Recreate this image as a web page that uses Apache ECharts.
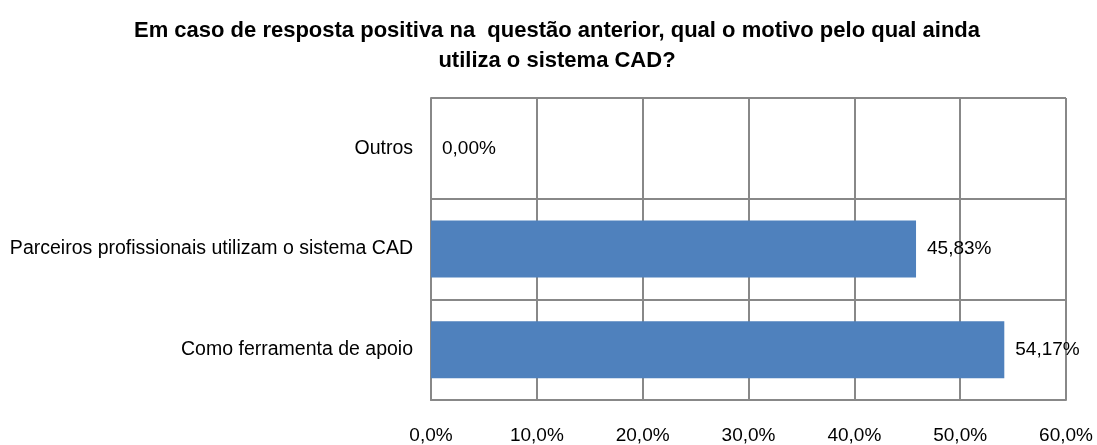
<!DOCTYPE html>
<html>
<head>
<meta charset="utf-8">
<script src="https://cdn.jsdelivr.net/npm/echarts@6/dist/echarts.min.js"></script>
<style>
  html, body { margin: 0; padding: 0; background: #fff; }
  #chart { width: 1097px; height: 445px; }
</style>
</head>
<body>
<div id="chart"></div>
<script>
// 类别（从下往上）
const categories = ['Como ferramenta de apoio', 'Parceiros profissionais utilizam o sistema CAD', 'Outros']
// 百分比数值
const values = [54.17, 45.83, 0.00]
// 横轴刻度
const xTicks = [0, 10, 20, 30, 40, 50, 60]

const titleText = 'Em caso de resposta positiva na  questão anterior, qual o motivo pelo qual ainda\nutiliza o sistema CAD?'
const fontFamily = '"Liberation Sans", Arial, sans-serif'

const chart = echarts.init(document.getElementById('chart'))

chart.setOption({
  animation: false,
  title: {
    text: titleText,
    left: 552,
    top: 11,
    textAlign: 'center',
    textStyle: {
      fontFamily: fontFamily,
      fontSize: 22,
      fontWeight: 'bold',
      color: '#000',
      lineHeight: 30
    }
  },
  grid: { left: 431, right: 31, top: 98, bottom: 43, containLabel: false },
  xAxis: {
    type: 'value',
    min: xTicks[0],
    max: xTicks[xTicks.length - 1],
    interval: 10,
    axisLine: { show: true, lineStyle: { color: '#888', width: 2 } },
    axisTick: { show: false },
    splitLine: { show: true, lineStyle: { color: '#888', width: 2 } },
    axisLabel: {
      margin: 26,
      fontFamily: fontFamily,
      fontSize: 19,
      color: '#000',
      formatter: v => v.toFixed(1).replace('.', ',') + '%'
    }
  },
  yAxis: {
    type: 'category',
    data: categories,
    axisLine: { show: true, lineStyle: { color: '#888', width: 2 } },
    axisTick: { show: false },
    splitLine: { show: true, lineStyle: { color: '#888', width: 2 } },
    axisLabel: {
      margin: 18,
      fontFamily: fontFamily,
      fontSize: 19.5,
      color: '#000'
    }
  },
  series: [{
    type: 'bar',
    data: values,
    barWidth: 57,
    itemStyle: { color: '#4F81BD' },
    label: {
      show: true,
      position: 'right',
      distance: 11,
      fontFamily: fontFamily,
      fontSize: 19,
      color: '#000',
      formatter: p => p.value.toFixed(2).replace('.', ',') + '%'
    }
  }]
})
</script>
</body>
</html>
